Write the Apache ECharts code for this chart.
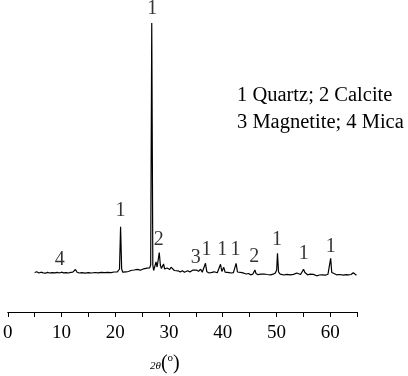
<!DOCTYPE html>
<html>
<head>
<meta charset="utf-8">
<script src="https://cdn.jsdelivr.net/npm/echarts@6/dist/echarts.min.js"></script>
<style>html,body{margin:0;padding:0;background:#fff}#c{width:408px;height:376px}</style>
</head>
<body>
<div id="c"></div>
<script>
// XRD pattern: [2θ (degrees), intensity (a.u.)]
const xrdPattern = [
[5.0,395],[5.4,402],[5.8,390],[6.2,398],[6.6,392],[7.0,388],[7.4,396],[7.8,390],[8.2,394],[8.5,408],
[8.8,392],[9.2,396],[9.6,390],[10.0,398],[10.4,392],[10.6,410],[10.9,393],[11.3,390],[11.7,396],[12.1,398],
[12.4,410],[12.6,425],[12.9,398],[13.3,390],[13.8,394],[14.4,389],[15.0,393],[15.6,390],[16.2,395],[16.8,392],
[17.4,396],[18.0,393],[18.6,397],[19.2,394],[19.8,400],[20.4,402],[20.8,430],[21.0,853],[21.2,430],[21.4,398],
[21.7,410],[22.0,402],[22.2,422],[22.5,405],[22.9,415],[23.2,406],[23.5,420],[23.8,408],[24.1,426],[24.4,410],
[24.7,418],[25.0,412],[25.3,432],[25.6,418],[25.9,438],[26.2,425],[26.4,440],[26.6,470],[26.8,2890],[27.0,470],
[27.15,415],[27.35,435],[27.6,500],[27.8,450],[27.95,470],[28.2,595],[28.4,470],[28.6,435],[28.8,455],[29.0,480],
[29.2,430],[29.4,418],[29.65,440],[29.9,450],[30.15,425],[30.4,448],[30.55,428],[30.7,440],[31.0,415],[31.3,405],
[31.7,412],[32.1,400],[32.5,412],[32.9,398],[33.2,404],[33.5,412],[33.9,400],[34.2,406],[34.4,418],[34.7,402],
[35.1,420],[35.5,408],[35.9,428],[36.2,398],[36.5,405],[36.8,487],[37.05,402],[37.5,390],[38.0,396],[38.4,402],
[38.7,393],[39.0,392],[39.35,400],[39.6,477],[39.85,405],[40.0,412],[40.2,447],[40.45,398],[40.8,390],[41.2,394],
[41.6,390],[42.0,393],[42.3,402],[42.5,487],[42.75,400],[43.1,388],[43.6,394],[43.9,385],[44.4,380],[44.8,385],
[45.2,372],[45.6,378],[45.85,390],[46.0,420],[46.2,385],[46.6,373],[47.1,378],[47.7,380],[48.3,375],[48.9,372],
[49.4,378],[49.8,390],[50.05,420],[50.2,587],[50.4,400],[50.7,378],[51.0,375],[51.4,370],[51.9,376],[52.6,372],
[53.2,376],[53.8,390],[54.1,372],[54.5,375],[54.85,385],[55.05,427],[55.3,395],[55.5,405],[55.8,372],[56.3,378],
[56.9,376],[57.5,362],[58.0,370],[58.5,372],[59.1,368],[59.6,378],[59.9,395],[60.1,537],[60.3,395],[60.6,380],
[61.2,372],[61.8,375],[62.5,368],[63.0,374],[63.4,372],[63.9,375],[64.3,393],[64.6,375],[64.9,368]
];

// Peak identification labels
const labelAngles  = [9.7, 21.0, 26.9, 28.1, 35.0, 37.0, 39.9, 42.4, 45.9, 50.1, 55.1, 60.1];
const labelHeights = [520, 1010, 3030, 720, 540, 620, 620, 620, 553, 720, 587, 653];
const labelTexts   = ['4','1','1','2','3','1','1','1','2','1','1','1'];

const legendLines = ['1 Quartz; 2 Calcite', '3 Magnetite; 4 Mica'];

const serif = "'Liberation Serif','Times New Roman',serif";

const chart = echarts.init(document.getElementById('c'), null, {renderer: 'canvas'});
chart.setOption({
  backgroundColor: '#fff',
  animation: false,
  grid: {left: 6, right: 51, top: 0, bottom: 64, containLabel: false},
  xAxis: {
    type: 'value', min: 0, max: 65, interval: 5,
    axisLine: {show: true, lineStyle: {color: '#000', width: 1}},
    axisTick: {show: true, length: 5, lineStyle: {color: '#000', width: 1}},
    splitLine: {show: false},
    axisLabel: {
      color: '#000', fontFamily: serif, fontSize: 19, margin: 12,
      formatter: v => (v % 10 === 0 ? String(v) : '')
    }
  },
  yAxis: {type: 'value', min: 0, max: 3120, show: false, splitLine: {show: false}},
  series: [
    {
      type: 'line', data: xrdPattern, symbol: 'none', smooth: false,
      lineStyle: {color: '#000', width: 1.2}, silent: true
    },
    {
      type: 'scatter', clip: false, silent: true,
      symbol: 'circle', symbolSize: 1,
      itemStyle: {color: 'rgba(0,0,0,0)'},
      data: labelAngles.map((a, i) => ({value: [a, labelHeights[i]], name: labelTexts[i]})),
      label: {show: true, position: 'inside', formatter: p => p.name,
              color: '#000', fontFamily: serif, fontSize: 20}
    }
  ],
  graphic: [
    {type: 'text', left: 237, top: 85,
     style: {text: legendLines[0], font: "20.5px 'Liberation Serif','Times New Roman',serif", fill: '#000'}},
    {type: 'text', left: 237, top: 112,
     style: {text: legendLines[1], font: "20.5px 'Liberation Serif','Times New Roman',serif", fill: '#000'}},
    {type: 'text', left: 150, top: 353,
     style: {
       text: '{a|2θ}{b|(}{c|o}{b|)}',
       rich: {
         a: {fontFamily: serif, fontStyle: 'italic', fontSize: 11, fill: '#000', padding: [5, 0, 0, 0]},
         b: {fontFamily: serif, fontSize: 20, fill: '#000'},
         c: {fontFamily: serif, fontSize: 11, fill: '#000', padding: [0, 0, 10, 0]}
       }
     }}
  ]
});
</script>
</body>
</html>
